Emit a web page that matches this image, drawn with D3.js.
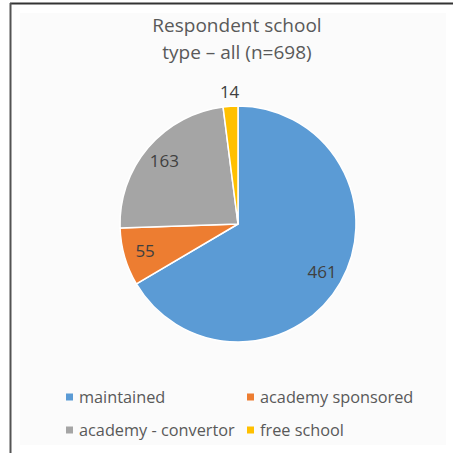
<!DOCTYPE html>
<html><head><meta charset="utf-8">
<script src="https://cdn.jsdelivr.net/npm/d3@7"></script>
<style>body{margin:0;background:#fff}svg{display:block}</style>
</head><body>
<script>
const categories = ["maintained", "academy sponsored", "academy - convertor", "free school"];
const values = [461, 55, 163, 14];
const colors = ["#5B9BD5", "#ED7D31", "#A5A5A5", "#FFC000"];
const titleLines = ["Respondent school", "type \u2013 all (n=698)"];

const W = 453, H = 453;
const svg = d3.select("body").append("svg").attr("width", W).attr("height", H);
const font = "'Open Sans', 'Noto Sans', sans-serif";

svg.append("rect").attr("x", 20).attr("y", 13).attr("width", 426).attr("height", 432).attr("fill", "#fbfbfb");
svg.append("line").attr("x1", 10).attr("x2", W).attr("y1", 3.5).attr("y2", 3.5).attr("stroke", "#333").attr("stroke-width", 2);
svg.append("line").attr("x1", 10.5).attr("x2", 10.5).attr("y1", 3).attr("y2", H).attr("stroke", "#555").attr("stroke-width", 2);

svg.append("g").selectAll("text").data(titleLines).join("text")
  .attr("x", 237).attr("y", (d, i) => 32 + i * 27)
  .attr("text-anchor", "middle").attr("font-family", font).attr("font-size", 19)
  .attr("fill", "#595959").text(d => d);

const cx = 238, cy = 224, r = 118;
const color = d3.scaleOrdinal().domain(categories).range(colors);
const pie = d3.pie().sort(null).value(d => d.v);
const data = categories.map((c, i) => ({c, v: values[i]}));
const arcs = pie(data);
const arc = d3.arc().innerRadius(0).outerRadius(r);
const g = svg.append("g").attr("transform", `translate(${cx},${cy})`);
g.selectAll("path").data(arcs).join("path")
  .attr("d", arc).attr("fill", d => color(d.data.c))
  .attr("stroke", "#fff").attr("stroke-width", 1.5);

const inArc = d3.arc().innerRadius(r * 0.82).outerRadius(r * 0.82);
const outArc = d3.arc().innerRadius(r * 1.12).outerRadius(r * 1.12);
g.selectAll("text").data(arcs).join("text")
  .attr("transform", d => {
    const p = (d.data.v < 30 ? outArc : inArc).centroid(d);
    return `translate(${p[0]},${p[1]})`;
  })
  .attr("text-anchor", "middle").attr("dy", "0.35em")
  .attr("font-family", font).attr("font-size", 17).attr("fill", "#404040")
  .text(d => d.data.v);

const legX = [66, 247], legY = [397, 430];
const lg = svg.append("g").selectAll("g").data(categories).join("g")
  .attr("transform", (d, i) => `translate(${legX[i % 2]},${legY[Math.floor(i / 2)]})`);
lg.append("rect").attr("x", 0).attr("y", -3.5).attr("width", 7).attr("height", 7).attr("fill", d => color(d));
lg.append("text").attr("x", 13).attr("dy", "0.35em")
  .attr("font-family", font).attr("font-size", 16.3).attr("fill", "#595959").text(d => d);
</script>
</body></html>
